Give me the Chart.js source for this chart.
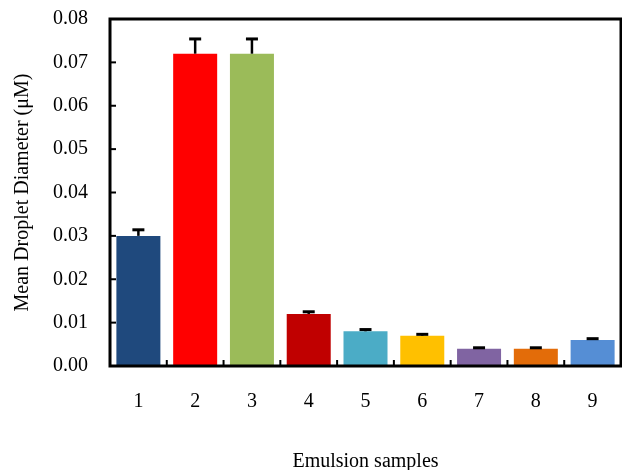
<!DOCTYPE html>
<html>
<head>
<meta charset="utf-8">
<script src="https://cdn.jsdelivr.net/npm/chart.js@4.4.0/dist/chart.umd.min.js"></script>
<style>
  html, body { margin: 0; padding: 0; background: #fff; }
  #wrap { width: 622px; height: 470px; }
</style>
</head>
<body>
<div id="wrap"><canvas id="myChart"></canvas></div>
<script>
var samples = ['1', '2', '3', '4', '5', '6', '7', '8', '9'];
var diameters = [0.030, 0.072, 0.072, 0.012, 0.008, 0.007, 0.004, 0.004, 0.006];
var errors = [0.0014, 0.0034, 0.0034, 0.0005, 0.0004, 0.0003, 0.0002, 0.0002, 0.0003];
var colours = ['#1F497D', '#FF0000', '#9BBB59', '#C00000', '#4BACC6', '#FFC000', '#8064A2', '#E36C09', '#558ED5'];

var serif = '"Liberation Serif", "Times New Roman", serif';

// error bars, inward tick marks and the black frame
var extras = {
    id: 'extras',
    afterDatasetsDraw: function(chart) {
        var ctx = chart.ctx;
        var x = chart.scales.x, y = chart.scales.y;
        var area = chart.chartArea;
        ctx.save();
        ctx.strokeStyle = '#000';
        ctx.lineCap = 'butt';

        // error bars (upper half only shows above the bar)
        for (var i = 0; i < diameters.length; i++) {
            var px = x.getPixelForValue(i);
            var top = y.getPixelForValue(diameters[i] + errors[i]);
            var base = y.getPixelForValue(diameters[i]);
            ctx.lineWidth = 2.5;
            ctx.beginPath();
            ctx.moveTo(px, base);
            ctx.lineTo(px, top);
            ctx.stroke();
            ctx.lineWidth = 3;
            ctx.beginPath();
            ctx.moveTo(px - 6, top);
            ctx.lineTo(px + 6, top);
            ctx.stroke();
        }

        // inward ticks on the y axis
        ctx.lineWidth = 2;
        y.ticks.forEach(function(t) {
            var py = y.getPixelForValue(t.value);
            ctx.beginPath();
            ctx.moveTo(area.left, py);
            ctx.lineTo(area.left + 6, py);
            ctx.stroke();
        });

        // inward ticks between categories
        for (var j = 0; j < samples.length - 1; j++) {
            var bx = (x.getPixelForValue(j) + x.getPixelForValue(j + 1)) / 2;
            ctx.beginPath();
            ctx.moveTo(bx, area.bottom);
            ctx.lineTo(bx, area.bottom - 6);
            ctx.stroke();
        }

        // frame
        ctx.lineWidth = 3;
        ctx.strokeRect(area.left, area.top, area.right - area.left, area.bottom - area.top);
        ctx.restore();
    }
};

var ctx = document.getElementById('myChart').getContext('2d');
var myChart = new Chart(ctx, {
    type: 'bar',
    data: {
        labels: samples,
        datasets: [{
            data: diameters,
            backgroundColor: colours,
            borderWidth: 0,
            categoryPercentage: 1,
            barPercentage: 0.775
        }]
    },
    options: {
        responsive: true,
        maintainAspectRatio: false,
        animation: false,
        devicePixelRatio: 1,
        layout: { padding: { left: 0, right: 1, top: 19, bottom: 0 } },
        plugins: { legend: { display: false }, tooltip: { enabled: false } },
        scales: {
            x: {
                grid: { display: false, drawTicks: false },
                border: { display: false },
                ticks: { color: '#000', padding: 24, font: { family: serif, size: 20 } },
                title: {
                    display: true,
                    text: 'Emulsion samples',
                    color: '#000',
                    font: { family: serif, size: 20, lineHeight: 1 },
                    padding: { top: 0, bottom: -2 }
                },
                afterFit: function(scale) {
                    scale.height = 104;
                    scale.paddingLeft = 0;
                    scale.paddingRight = 0;
                }
            },
            y: {
                min: 0,
                max: 0.08,
                grid: { display: false, drawTicks: false },
                border: { display: false },
                ticks: {
                    stepSize: 0.01,
                    color: '#000',
                    padding: 22,
                    font: { family: serif, size: 20 },
                    callback: function(v) { return v.toFixed(2); }
                },
                title: {
                    display: true,
                    text: 'Mean Droplet Diameter (\u03bcM)',
                    color: '#000',
                    font: { family: serif, size: 20, lineHeight: 1 },
                    padding: { top: 13, bottom: 0 }
                },
                afterFit: function(scale) {
                    scale.width = 110;
                    scale.paddingTop = 0;
                    scale.paddingBottom = 0;
                }
            }
        }
    },
    plugins: [extras]
});
</script>
</body>
</html>
